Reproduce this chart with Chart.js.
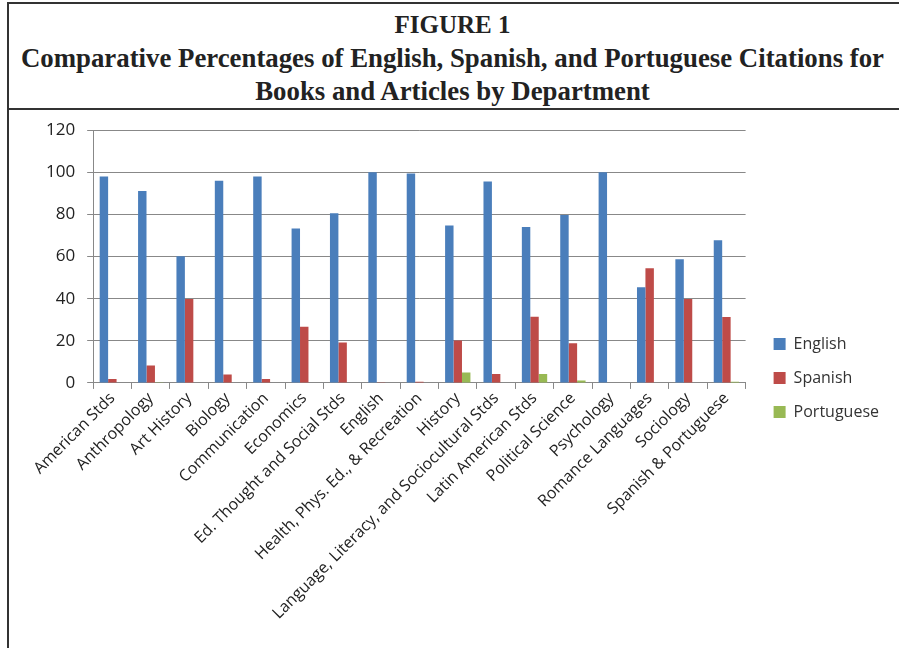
<!DOCTYPE html>
<html>
<head>
<meta charset="utf-8">
<script src="https://cdn.jsdelivr.net/npm/chart.js@4/dist/chart.umd.min.js"></script>
<style>
  body { margin: 0; background: #fff; overflow: hidden; }
  #frame { position: absolute; left: 7px; top: 2px; width: 920px; height: 680px; border: 2px solid #333; box-sizing: border-box; }
  #title { position: absolute; left: 0; top: 0; width: 918px; height: 106px; border-bottom: 2px solid #333; box-sizing: border-box; }
  #title div { width: 887px; font-family: "Liberation Serif", "Times New Roman", serif; font-weight: bold; font-size: 26.8px; color: #222; text-align: center; line-height: 33.5px; padding-top: 4px; }
  #title .fig { font-size: 25px; }
  #wrap { position: absolute; left: 1px; top: 104px; }
</style>
</head>
<body>
<div id="frame">
  <div id="title"><div><span class="fig">FIGURE 1</span><br>Comparative Percentages of English, Spanish, and Portuguese Citations for<br>Books and Articles by Department</div></div>
  <div id="wrap"><canvas id="myChart" width="885" height="541"></canvas></div>
</div>
<script>
var departments = ['American Stds', 'Anthropology', 'Art History', 'Biology', 'Communication', 'Economics',
  'Ed. Thought and Social Stds', 'English', 'Health, Phys. Ed., & Recreation', 'History',
  'Language, Literacy, and Sociocultural Stds', 'Latin American Stds', 'Political Science', 'Psychology',
  'Romance Languages', 'Sociology', 'Spanish & Portuguese']
var english = [98, 91.1, 60.2, 96, 98, 73.3, 80.6, 100, 99.4, 74.8, 95.7, 74, 79.7, 100, 45.4, 58.7, 67.8]
var spanish = [1.9, 8.3, 39.8, 4, 1.9, 26.7, 19.2, 0.3, 0.6, 20.2, 4.3, 31.4, 18.9, 0, 54.4, 39.8, 31.3]
var portuguese = [0, 0.3, 0, 0, 0, 0, 0, 0, 0, 4.9, 0, 4.3, 1.1, 0, 0, 0, 0.6]
var yTicks = [0, 20, 40, 60, 80, 100, 120]

// push the legend a bit away from the plot, like the Excel original
var legendGap = {
  id: 'legendGap',
  afterLayout(chart) {
    chart.legend.left += 10
    chart.legend.right += 10
    chart.legend.top += 5
    chart.legend.bottom += 5
  }
}

var ctx = document.getElementById('myChart').getContext('2d');
var chart = new Chart(ctx, {
  type: 'bar',
  data: {
    labels: departments,
    datasets: [
      { label: 'English', data: english, backgroundColor: '#4A7EBB' },
      { label: 'Spanish', data: spanish, backgroundColor: '#BE4B48' },
      { label: 'Portuguese', data: portuguese, backgroundColor: '#98B954' },
    ]
  },
  options: {
    responsive: false,
    animation: false,
    datasets: { bar: { barPercentage: 1, categoryPercentage: 0.66 } },
    layout: { padding: { left: 24, top: 15, right: 16, bottom: 26 } },
    plugins: {
      tooltip: { enabled: false },
      legend: {
        position: 'right',
        labels: { boxWidth: 12, boxHeight: 12, padding: 18, color: '#333',
          font: { family: 'Open Sans', size: 16 } }
      }
    },
    scales: {
      x: {
        grid: { drawOnChartArea: false, drawTicks: true, tickLength: 6, color: '#888' },
        border: { color: '#888' },
        ticks: { minRotation: 45, maxRotation: 45, autoSkip: false, color: '#222', padding: 0,
          font: { family: 'Open Sans', size: 16 } }
      },
      y: {
        min: 0, max: 120,
        afterBuildTicks: function (axis) { axis.ticks = yTicks.map(function (v) { return { value: v } }) },
        grid: { color: '#888', tickLength: 6 },
        border: { color: '#888' },
        ticks: { color: '#222', padding: 12, font: { family: 'Open Sans', size: 17 } }
      }
    }
  },
  plugins: [legendGap]
});
</script>
</body>
</html>
